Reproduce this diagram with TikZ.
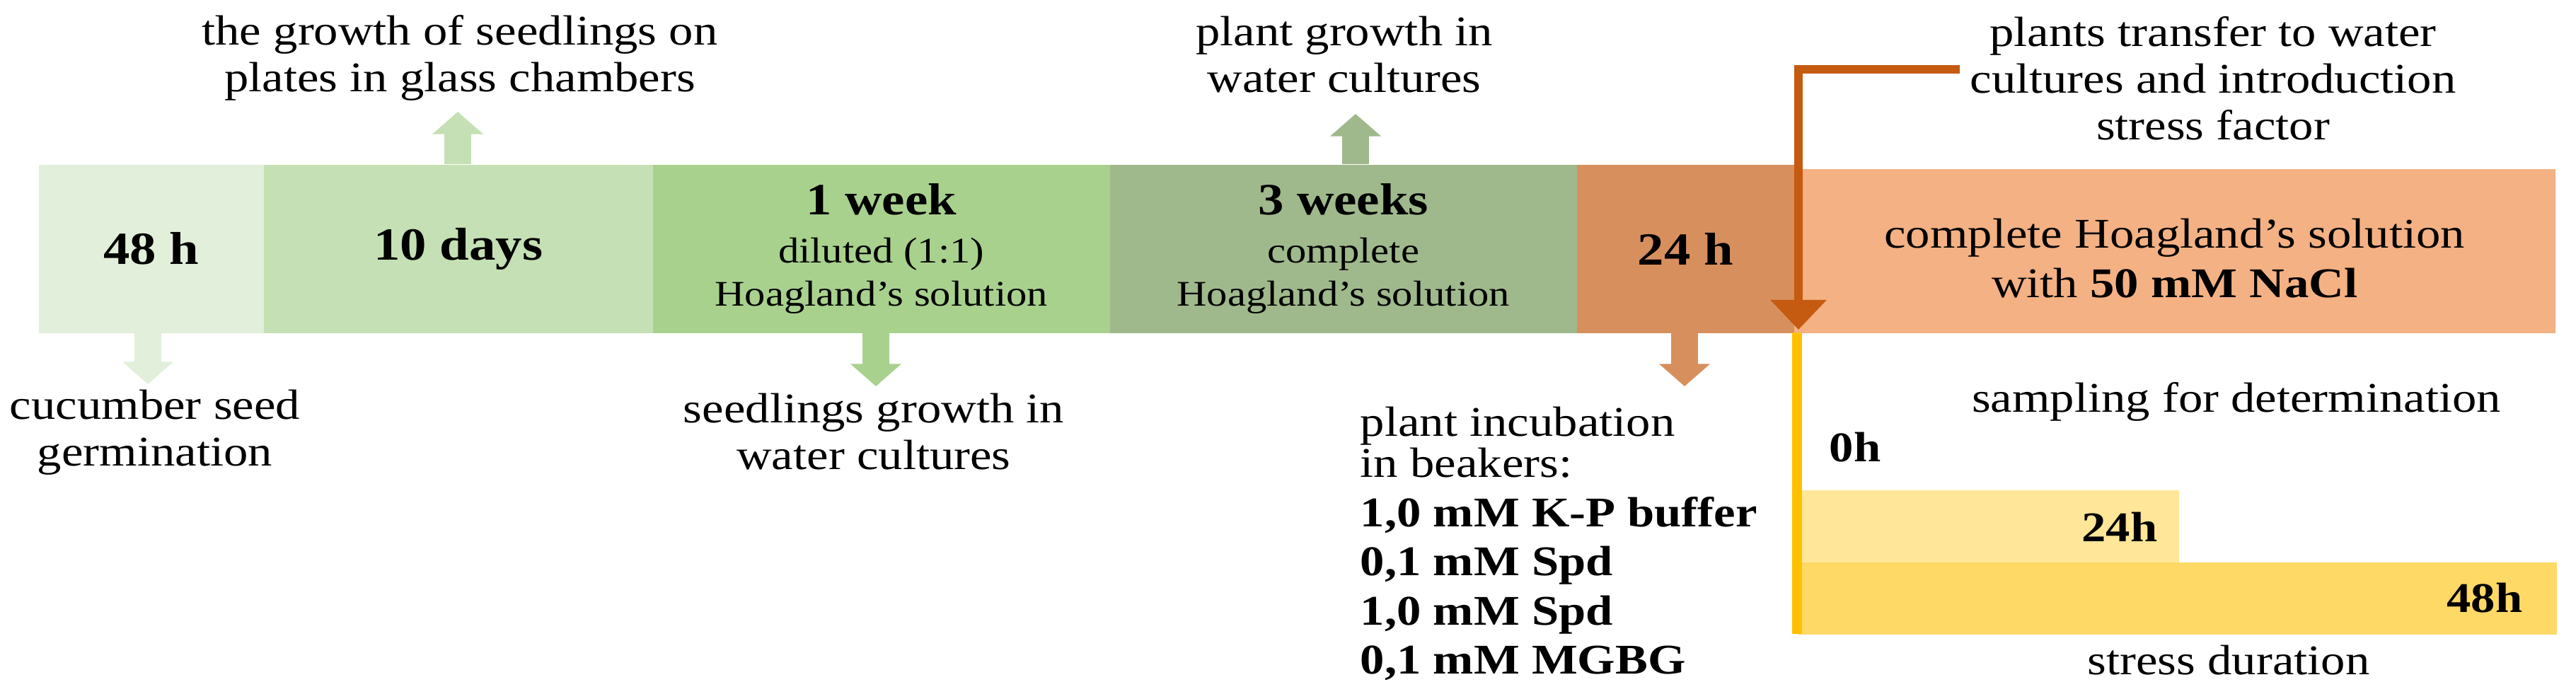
\documentclass[tikz,border=0pt]{standalone}
\usepackage{fontspec}
\setmainfont{Liberation Serif}[FakeStretch=1.15]
\usetikzlibrary{arrows.meta}
\definecolor{germ}{HTML}{E2EFDA}
\definecolor{plate}{HTML}{C5E0B4}
\definecolor{dilut}{HTML}{A9D18E}
\definecolor{water}{HTML}{A0B98C}
\definecolor{beaker}{HTML}{D88F5E}
\definecolor{salt}{HTML}{F4B183}
\definecolor{move}{HTML}{C55A11}
\definecolor{stress}{HTML}{FFC000}
\definecolor{day}{HTML}{FFE699}
\definecolor{twoday}{HTML}{FFD966}
\tikzset{
    stage/.style =  {rectangle,
                    draw=none,
                    text=black,
                    inner sep=0pt,
                    anchor=north west,
                    minimum height=2.38cm,
                    align=center},
    bigtime/.style = {font=\fontsize{18.5}{22}\selectfont\bfseries},
    subtext/.style = {font=\fontsize{14.5}{17.6}\selectfont},
    note/.style =   {align=center,
                    inner sep=0pt,
                    text=black,
                    font=\fontsize{17}{18.8}\selectfont},
    hour/.style =   {inner sep=0pt,
                    font=\fontsize{17}{20}\selectfont\bfseries},
    bar/.style =    {rectangle,
                    draw=none,
                    inner sep=0pt,
                    anchor=north west,
                    minimum height=1.02cm},
    blockarrow/.style = {line width=10.8pt,
                    -{Triangle[width=20pt,length=9pt]}},
    transfer/.style = {draw=move,
                    line width=3.4pt,
                    -{Triangle[width=22pt,length=12pt]}},
    -,
    >=stealth}

\begin{document}
\begin{tikzpicture}
    \useasboundingbox (0,0) rectangle (36.41,9.88);
    % time line
    \node[stage, fill=germ,   minimum width=3.18cm, bigtime] (b1) at (0.54,7.56)  {48 h};
    \node[stage, fill=plate,  minimum width=5.50cm, bigtime] (b2) at (3.72,7.56)  {10 days};
    \node[stage, fill=dilut,  minimum width=6.46cm, subtext] (b3) at (9.22,7.56)
        {{\fontsize{18}{20}\selectfont\bfseries 1 week}\\[1.7pt]diluted (1:1)\\Hoagland's solution};
    \node[stage, fill=water,  minimum width=6.60cm, subtext] (b4) at (15.68,7.56)
        {{\fontsize{18}{20}\selectfont\bfseries 3 weeks}\\[1.7pt]complete\\Hoagland's solution};
    \node[stage, fill=beaker, minimum width=3.07cm, bigtime] (b5) at (22.28,7.56) {24 h};
    \node[stage, fill=salt,   minimum width=10.76cm, minimum height=2.32cm] (b6) at (25.35,7.50) {};
    \node[note, font=\fontsize{17}{19.9}\selectfont] (n6) at ([yshift=-0.1cm]b6.center)
        {complete Hoagland's solution\\with \textbf{50 mM NaCl}};

    % labels
    \node[note] (l1) at (2.19,3.77)  {cucumber seed\\germination};
    \node[note] (l2) at (6.50,9.06)  {the growth of seedlings on\\plates in glass chambers};
    \node[note] (l3) at (12.35,3.78) {seedlings growth in\\water cultures};
    \node[note] (l4) at (19.00,9.11) {plant growth in\\water cultures};
    \node[note, align=left, anchor=north west, font=\fontsize{17}{19.8}\selectfont] (l5) at (19.22,4.14)
        {plant incubation\\[-3.2pt]in beakers:\\\textbf{1,0 mM K-P buffer}\\\textbf{0,1 mM Spd}\\
         \textbf{1,0 mM Spd}\\\textbf{0,1 mM MGBG}};
    \node[note] (l6) at (31.28,8.77) {plants transfer to water\\cultures and introduction\\stress factor};

    % arrows out of the stages
    \coordinate (t1) at (2.09,4.45);
    \coordinate (t2) at (6.47,8.30);
    \coordinate (t3) at (12.38,4.42);
    \coordinate (t4) at (19.16,8.27);
    \coordinate (t5) at (23.81,4.42);
    \draw[blockarrow, draw=germ]   (b1.south -| t1) -- (t1);
    \draw[blockarrow, draw=plate]  (b2.north -| t2) -- (t2);
    \draw[blockarrow, draw=dilut]  (b3.south -| t3) -- (t3);
    \draw[blockarrow, draw=water]  (b4.north -| t4) -- (t4);
    \draw[blockarrow, draw=beaker] (b5.south -| t5) -- (t5);

    % stress duration
    \node[bar, fill=day,    minimum width=5.39cm]  (d24) at (25.40,2.96) {};
    \node[bar, fill=twoday, minimum width=10.73cm] (d48) at (25.40,1.94) {};
    \coordinate (y0) at (25.40,5.18);
    \coordinate (y1) at (25.40,0.92);
    \draw[draw=stress, line width=4pt] (y0) -- (y1);
    \node[note, anchor=base] (samp) at (31.61,4.05) {sampling for determination};
    \node[note, anchor=base] (dur)  at (31.50,0.34) {stress duration};
    \node[hour, anchor=base west] (h0)  at (25.85,3.35) {0h};
    \node[hour, anchor=base east] (h24) at (30.50,2.22) {24h};
    \node[hour, anchor=base east] (h48) at (35.66,1.22) {48h};

    % transfer to salt
    \coordinate (s6) at (27.70,8.90);
    \coordinate (t6) at (25.42,5.22);
    \draw[transfer] (s6) -| (t6);
\end{tikzpicture}
\end{document}
